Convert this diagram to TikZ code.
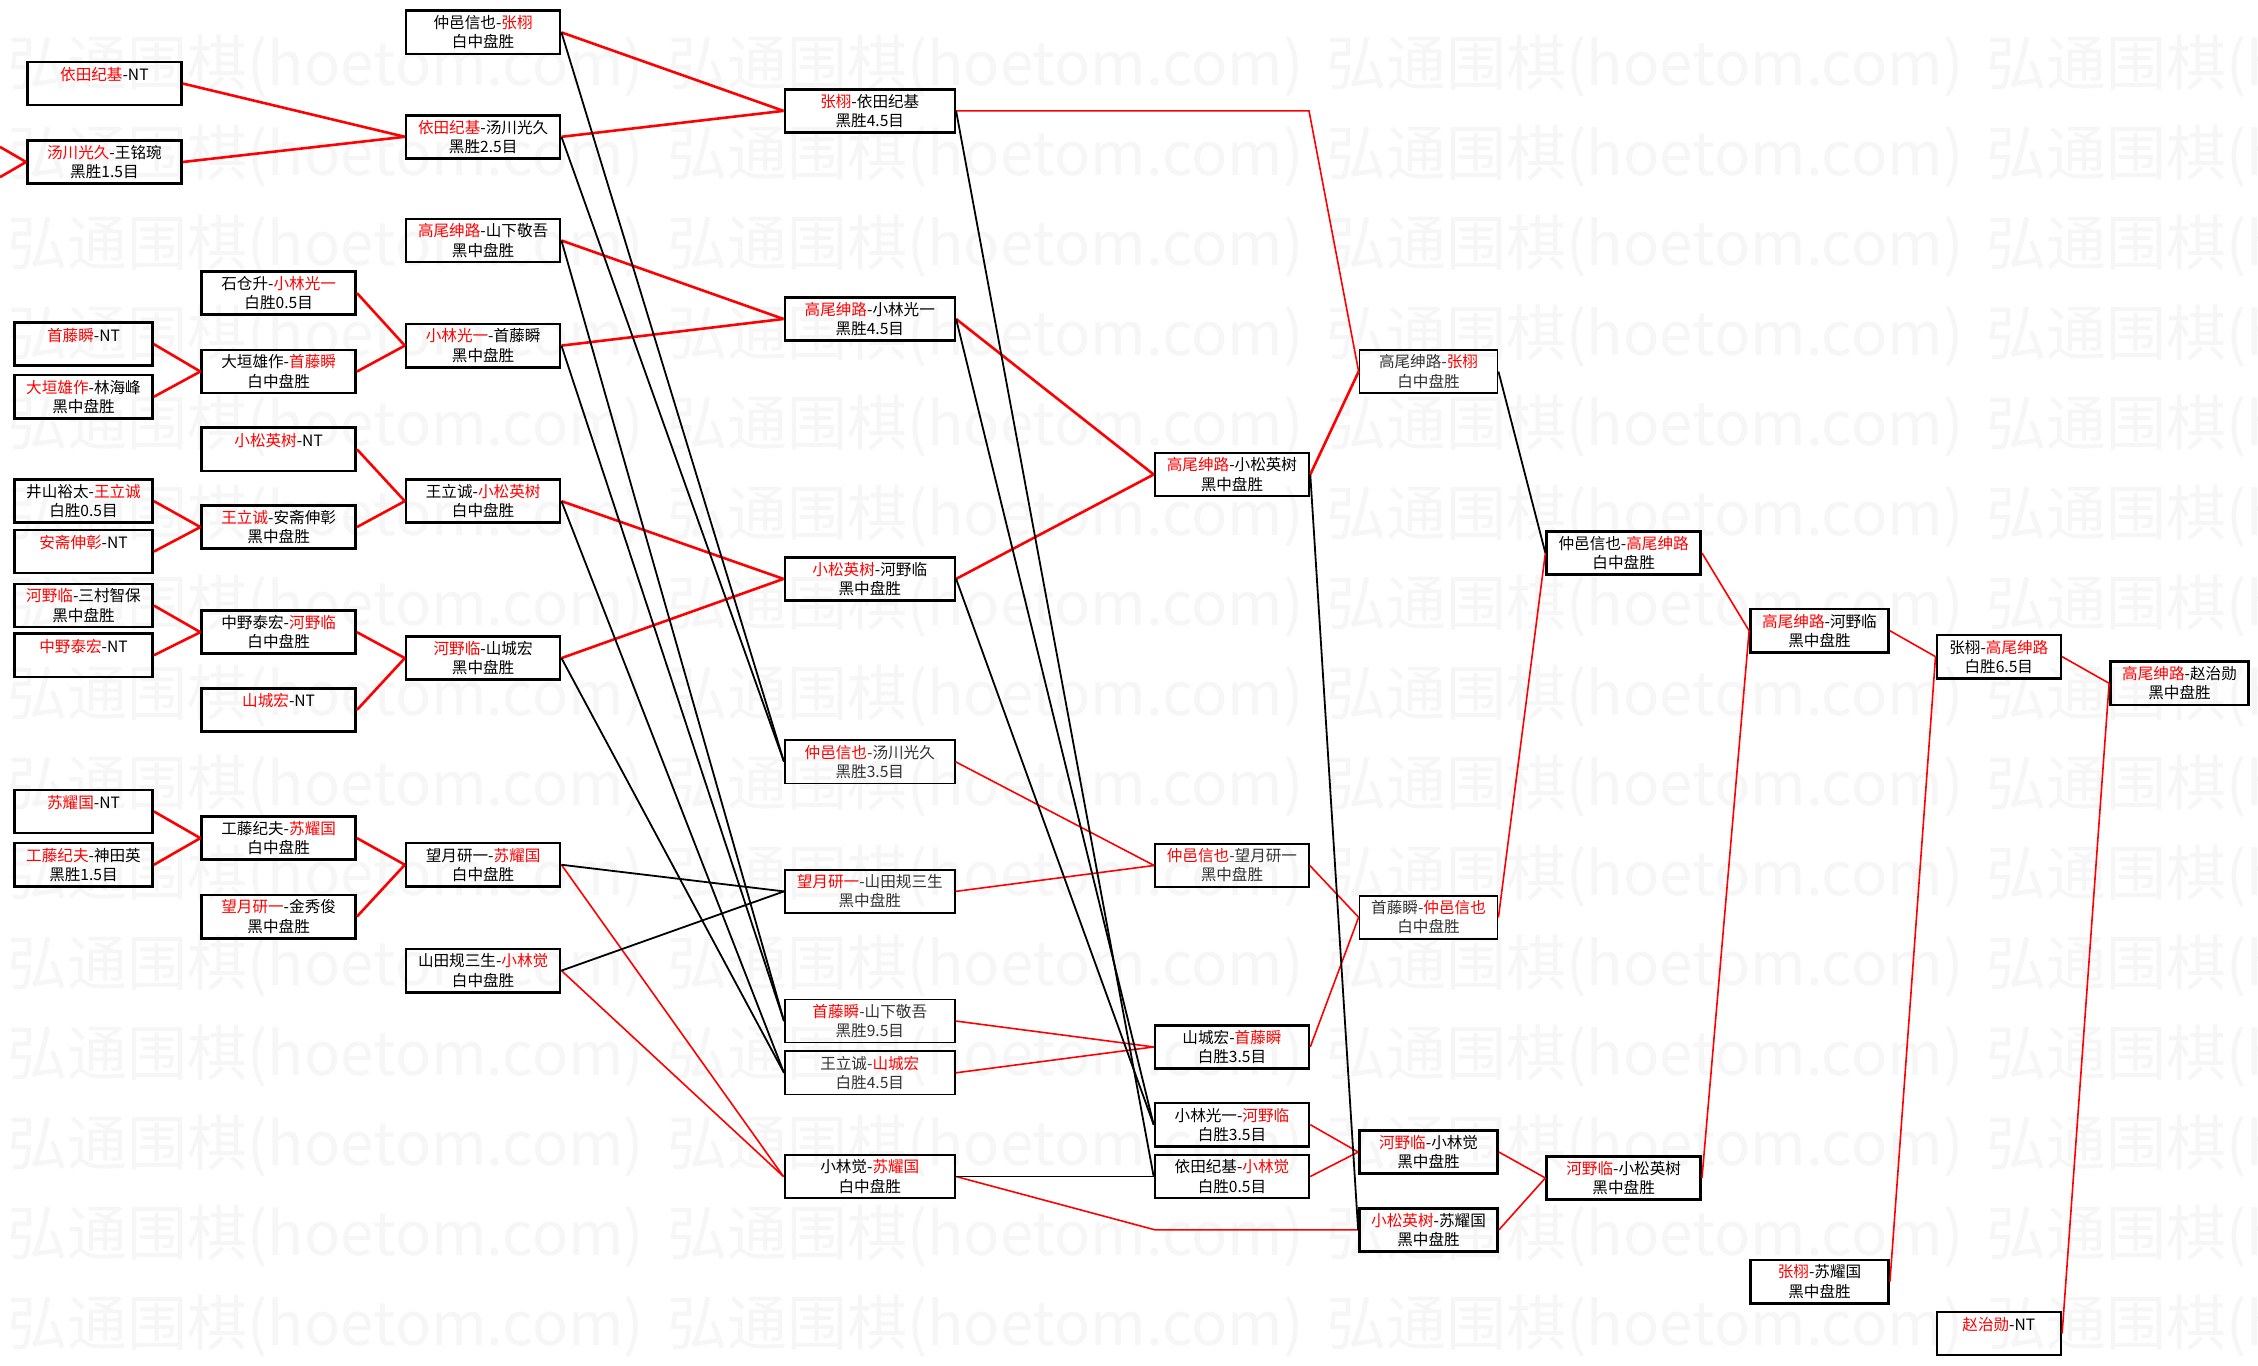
\documentclass[tikz,border=0pt]{standalone}
\usepackage{fontspec}
\setmainfont{Noto Sans CJK SC}
\usepackage{tikz}
\newcommand{\win}[1]{\textcolor{red}{#1}}

\begin{document}
\begin{tikzpicture}[x=0.72pt,y=-0.72pt,
  game/.style={draw,line width=1.3pt,align=center,inner sep=0pt,minimum height=21.6pt,font=\fontsize{7.8}{9.6}\selectfont},
  lite/.style={line width=0.8pt,text=black!80},
  wa/.style={minimum width=69.1pt},
  wb/.style={minimum width=77pt},
  wd/.style={minimum width=85pt},
  wi/.style={minimum width=62pt},
  redline/.style={red,line width=1.3pt},
  redthin/.style={red,line width=0.8pt},
  blackline/.style={black,line width=0.9pt},
  wmark/.style={anchor=west,text=black!3.5,inner sep=0pt,font=\fontsize{30}{30}\selectfont}]
\fill[white] (0,0) rectangle (1568,948);
\useasboundingbox (0,0) rectangle (1568,948);
\begin{scope}
\clip (0,0) rectangle (1568,948);
\foreach \r in {0,...,14}
  \foreach \c in {0,...,3}
    \node[wmark] at (5+458*\c,46+62.5*\r) {弘通围棋(hoetom.com)};
\end{scope}

\node[game,wb] (a1) at (72.5,58) {\win{依田纪基}-NT\\~};
\node[game,wb] (a2) at (72.5,112.5) {\win{汤川光久}-王铭琬\\黑胜1.5目};
\node[game,wa] (a3) at (58,239) {\win{首藤瞬}-NT\\~};
\node[game,wa] (a4) at (58,275.5) {\win{大垣雄作}-林海峰\\黑中盘胜};
\node[game,wa] (a5) at (58,348) {井山裕太-\win{王立诚}\\白胜0.5目};
\node[game,wa] (a6) at (58,383) {\win{安斋伸彰}-NT\\~};
\node[game,wa] (a7) at (58,420.5) {\win{河野临}-三村智保\\黑中盘胜};
\node[game,wa] (a8) at (58,455) {\win{中野泰宏}-NT\\~};
\node[game,wa] (a9) at (58,563.5) {\win{苏耀国}-NT\\~};
\node[game,wa] (a10) at (58,600.5) {\win{工藤纪夫}-神田英\\黑胜1.5目};

\node[game,wb] (b1) at (193.5,203.5) {石仓升-\win{小林光一}\\白胜0.5目};
\node[game,wb] (b2) at (193.5,258) {大垣雄作-\win{首藤瞬}\\白中盘胜};
\node[game,wb] (b3) at (193.5,312) {\win{小松英树}-NT\\~};
\node[game,wb] (b4) at (193.5,366) {\win{王立诚}-安斋伸彰\\黑中盘胜};
\node[game,wb] (b5) at (193.5,439) {中野泰宏-\win{河野临}\\白中盘胜};
\node[game,wb] (b6) at (193.5,493) {\win{山城宏}-NT\\~};
\node[game,wb] (b7) at (193.5,582) {工藤纪夫-\win{苏耀国}\\白中盘胜};
\node[game,wb] (b8) at (193.5,636.5) {\win{望月研一}-金秀俊\\黑中盘胜};

\node[game,wb] (c1) at (335.5,22.5) {仲邑信也-\win{张栩}\\白中盘胜};
\node[game,wb] (c2) at (335.5,95) {\win{依田纪基}-汤川光久\\黑胜2.5目};
\node[game,wb] (c3) at (335.5,167) {\win{高尾绅路}-山下敬吾\\黑中盘胜};
\node[game,wb] (c4) at (335.5,240) {\win{小林光一}-首藤瞬\\黑中盘胜};
\node[game,wb] (c5) at (335.5,348) {王立诚-\win{小松英树}\\白中盘胜};
\node[game,wb] (c6) at (335.5,457) {\win{河野临}-山城宏\\黑中盘胜};
\node[game,wb] (c7) at (335.5,600.5) {望月研一-\win{苏耀国}\\白中盘胜};
\node[game,wb] (c8) at (335.5,674) {山田规三生-\win{小林觉}\\白中盘胜};

\node[game,wd] (d1) at (604,77) {\win{张栩}-依田纪基\\黑胜4.5目};
\node[game,wd] (d2) at (604,221.5) {\win{高尾绅路}-小林光一\\黑胜4.5目};
\node[game,wd] (d3) at (604,402) {\win{小松英树}-河野临\\黑中盘胜};
\node[game,wd,lite] (d4) at (604,529) {\win{仲邑信也}-汤川光久\\黑胜3.5目};
\node[game,wd,lite] (d5) at (604,619) {\win{望月研一}-山田规三生\\黑中盘胜};
\node[game,wd,lite] (d6) at (604,709) {\win{首藤瞬}-山下敬吾\\黑胜9.5目};
\node[game,wd,lite] (d7) at (604,745) {王立诚-\win{山城宏}\\白胜4.5目};
\node[game,wd] (d8) at (604,817) {小林觉-\win{苏耀国}\\白中盘胜};

\node[game,wb] (e1) at (855.5,329.5) {\win{高尾绅路}-小松英树\\黑中盘胜};
\node[game,wb,lite] (e2) at (855.5,601) {\win{仲邑信也}-望月研一\\黑中盘胜};
\node[game,wb] (e3) at (855.5,727) {山城宏-\win{首藤瞬}\\白胜3.5目};
\node[game,wb] (e4) at (855.5,781) {小林光一-\win{河野临}\\白胜3.5目};
\node[game,wb] (e5) at (855.5,817) {依田纪基-\win{小林觉}\\白胜0.5目};

\node[game,wa,lite] (f1) at (992,258) {高尾绅路-\win{张栩}\\白中盘胜};
\node[game,wa,lite] (f2) at (992,637) {首藤瞬-\win{仲邑信也}\\白中盘胜};
\node[game,wa] (f3) at (992,800) {\win{河野临}-小林觉\\黑中盘胜};
\node[game,wa] (f4) at (992,854) {\win{小松英树}-苏耀国\\黑中盘胜};

\node[game,wb] (g1) at (1127.5,384) {仲邑信也-\win{高尾绅路}\\白中盘胜};
\node[game,wb] (g2) at (1127.5,818) {\win{河野临}-小松英树\\黑中盘胜};

\node[game,wa] (h1) at (1263.5,438) {\win{高尾绅路}-河野临\\黑中盘胜};
\node[game,wa] (h2) at (1263.5,890) {\win{张栩}-苏耀国\\黑中盘胜};

\node[game,wi] (i1) at (1388,456) {张栩-\win{高尾绅路}\\白胜6.5目};
\node[game,wi] (i2) at (1388,926) {\win{赵治勋}-NT\\~};

\node[game,wa] (j1) at (1513.5,474.5) {\win{高尾绅路}-赵治勋\\黑中盘胜};

\coordinate (p1) at (0,102);
\coordinate (p2) at (0,123);
\coordinate (k1) at (909,77);
\coordinate (k2) at (802,854);

\draw[redline] (p1) -- (a2.west);
\draw[redline] (p2) -- (a2.west);
\draw[redline] (a1.east) -- (c2.west);
\draw[redline] (a2.east) -- (c2.west);
\draw[redline] (a3.east) -- (b2.west);
\draw[redline] (a4.east) -- (b2.west);
\draw[redline] (b1.east) -- (c4.west);
\draw[redline] (b2.east) -- (c4.west);
\draw[redline] (a5.east) -- (b4.west);
\draw[redline] (a6.east) -- (b4.west);
\draw[redline] (b3.east) -- (c5.west);
\draw[redline] (b4.east) -- (c5.west);
\draw[redline] (a7.east) -- (b5.west);
\draw[redline] (a8.east) -- (b5.west);
\draw[redline] (b5.east) -- (c6.west);
\draw[redline] (b6.east) -- (c6.west);
\draw[redline] (a9.east) -- (b7.west);
\draw[redline] (a10.east) -- (b7.west);
\draw[redline] (b7.east) -- (c7.west);
\draw[redline] (b8.east) -- (c7.west);
\draw[redline] (c1.east) -- (d1.west);
\draw[redline] (c2.east) -- (d1.west);
\draw[redline] (c3.east) -- (d2.west);
\draw[redline] (c4.east) -- (d2.west);
\draw[redline] (c5.east) -- (d3.west);
\draw[redline] (c6.east) -- (d3.west);
\draw[redthin] (c7.east) -- (d8.west);
\draw[redthin] (c8.east) -- (d8.west);
\draw[redthin] (d1.east) -- (k1) -- (f1.west);
\draw[redline] (d2.east) -- (e1.west);
\draw[redline] (d3.east) -- (e1.west);
\draw[redline] (e1.east) -- (f1.west);
\draw[redthin] (d4.east) -- (e2.west);
\draw[redthin] (d5.east) -- (e2.west);
\draw[redthin] (e2.east) -- (f2.west);
\draw[redthin] (d6.east) -- (e3.west);
\draw[redthin] (d7.east) -- (e3.west);
\draw[redthin] (e3.east) -- (f2.west);
\draw[redthin] (f2.east) -- (g1.west);
\draw[redthin] (g1.east) -- (h1.west);
\draw[redthin] (e4.east) -- (f3.west);
\draw[redthin] (e5.east) -- (f3.west);
\draw[redthin] (d8.east) -- (k2) -- (f4.west);
\draw[redthin] (f3.east) -- (g2.west);
\draw[redthin] (f4.east) -- (g2.west);
\draw[redthin] (g2.east) -- (h1.west);
\draw[redthin] (h1.east) -- (i1.west);
\draw[redthin] (h2.east) -- (i1.west);
\draw[redthin] (i1.east) -- (j1.west);
\draw[redthin] (i2.east) -- (j1.west);

\draw[blackline] (c1.east) -- (d4.west);
\draw[blackline] (c2.east) -- (d4.west);
\draw[blackline] (c3.east) -- (d6.west);
\draw[blackline] (c4.east) -- (d6.west);
\draw[blackline] (c5.east) -- (d7.west);
\draw[blackline] (c6.east) -- (d7.west);
\draw[blackline] (c7.east) -- (d5.west);
\draw[blackline] (c8.east) -- (d5.west);
\draw[blackline] (d1.east) -- (e5.west);
\draw[blackline] (d8.east) -- (e5.west);
\draw[blackline] (d2.east) -- (e4.west);
\draw[blackline] (d3.east) -- (e4.west);
\draw[blackline] (e1.east) -- (f4.west);
\draw[blackline] (f1.east) -- (g1.west);
\end{tikzpicture}
\end{document}
